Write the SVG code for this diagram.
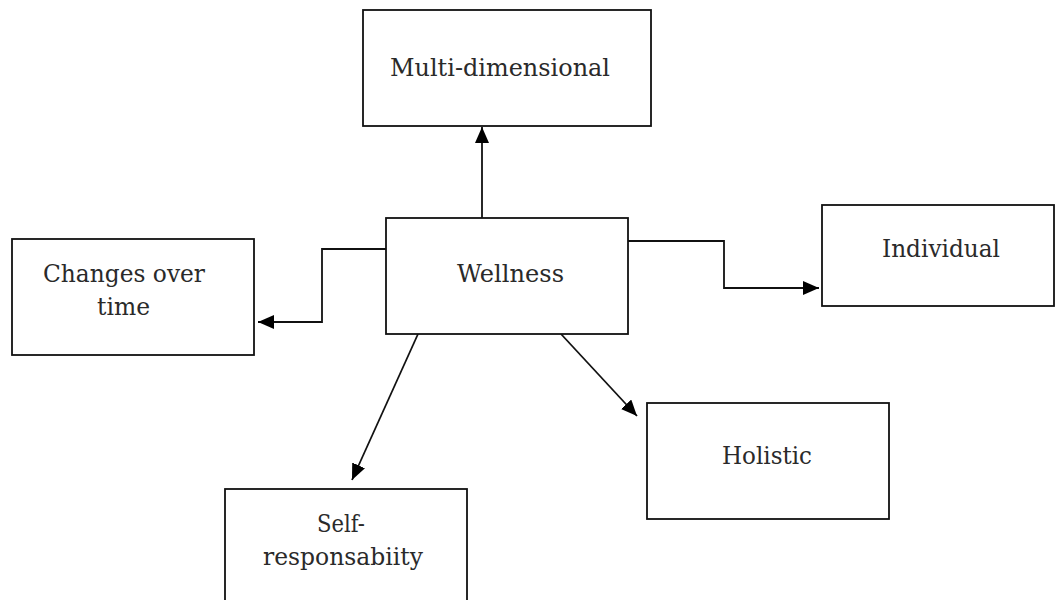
<svg xmlns="http://www.w3.org/2000/svg" width="1056" height="600" viewBox="0 0 1056 600">
  <style>
    .box { fill: #ffffff; stroke: #111111; stroke-width: 1.8; }
    .lbl { font-family: "DejaVu Serif", "Liberation Serif", serif; font-size: 25px; fill: #2a2a2a; text-anchor: middle; }
    .conn { fill: none; stroke: #111111; stroke-width: 1.8; marker-end: url(#arrow); }
  </style>
  <defs>
    <marker id="arrow" markerUnits="userSpaceOnUse" markerWidth="18" markerHeight="15" refX="16" refY="7" orient="auto">
      <path d="M0,0 L16,7 L0,14 z" fill="#000000"/>
    </marker>
  </defs>
  <rect width="1056" height="600" fill="#ffffff"/>

  <g id="connectors">
    <path class="conn" d="M482,218 V127"/>
    <path class="conn" d="M386,249 H322 V322 H258"/>
    <path class="conn" d="M628,241 H724 V288 H819"/>
    <path class="conn" d="M418,334 L352,480"/>
    <path class="conn" d="M561,334 L637,416"/>
  </g>

  <g id="node-multidimensional">
    <rect class="box" x="363" y="10" width="288" height="116"/>
    <text class="lbl" x="500" y="76" textLength="220" lengthAdjust="spacingAndGlyphs">Multi-dimensional</text>
  </g>

  <g id="node-wellness">
    <rect class="box" x="386" y="218" width="242" height="116"/>
    <text class="lbl" x="510.5" y="282" textLength="107" lengthAdjust="spacingAndGlyphs">Wellness</text>
  </g>

  <g id="node-changes">
    <rect class="box" x="12" y="239" width="242" height="116"/>
    <text class="lbl" x="124" y="282" textLength="162" lengthAdjust="spacingAndGlyphs">Changes over</text>
    <text class="lbl" x="123.5" y="315" textLength="53" lengthAdjust="spacingAndGlyphs">time</text>
  </g>

  <g id="node-individual">
    <rect class="box" x="822" y="205" width="232" height="101"/>
    <text class="lbl" x="941" y="257" textLength="118" lengthAdjust="spacingAndGlyphs">Individual</text>
  </g>

  <g id="node-self">
    <rect class="box" x="225" y="489" width="242" height="125"/>
    <text class="lbl" x="341" y="532" textLength="48" lengthAdjust="spacingAndGlyphs">Self-</text>
    <text class="lbl" x="343" y="565" textLength="160" lengthAdjust="spacingAndGlyphs">responsabiity</text>
  </g>

  <g id="node-holistic">
    <rect class="box" x="647" y="403" width="242" height="116"/>
    <text class="lbl" x="767" y="464" textLength="90" lengthAdjust="spacingAndGlyphs">Holistic</text>
  </g>
</svg>
